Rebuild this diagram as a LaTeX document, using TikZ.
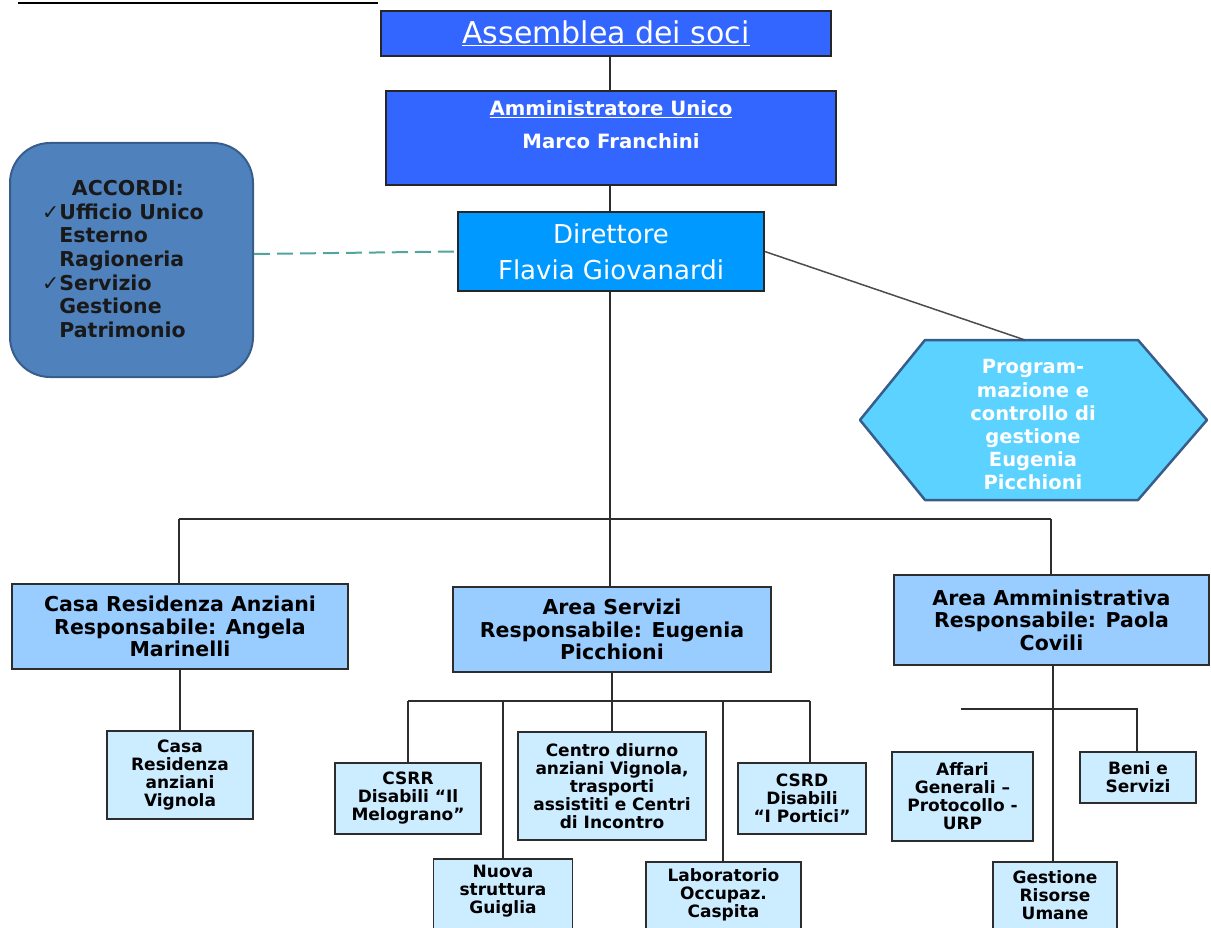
\documentclass[tikz,border=0pt]{standalone}
\usepackage{fontspec}
\setmainfont{DejaVu Sans}
\usetikzlibrary{calc}
\definecolor{bluebox}{RGB}{51,102,255}
\definecolor{dirblue}{RGB}{0,153,255}
\definecolor{accfill}{RGB}{79,129,189}
\definecolor{accline}{RGB}{56,93,138}
\definecolor{hexfill}{RGB}{91,210,255}
\definecolor{areafill}{RGB}{153,204,255}
\definecolor{subfill}{RGB}{204,236,255}
\definecolor{dashcol}{RGB}{80,165,160}
\definecolor{linecol}{RGB}{45,45,45}
\tikzset{
  bluenode/.style={draw=black!85, line width=1.5pt, fill=bluebox, text=white, inner sep=0pt},
  areabox/.style={draw=linecol, line width=1.5pt, fill=areafill, align=center, inner sep=0pt,
    font=\bfseries\fontsize{20.5}{22.5}\selectfont},
  subbox/.style={draw=linecol, line width=1.5pt, fill=subfill, align=center, inner sep=0pt,
    font=\bfseries\fontsize{17}{18}\selectfont},
  subtext/.style={align=center, inner sep=0pt, font=\bfseries\fontsize{17}{18}\selectfont},
  conn/.style={draw=linecol, line width=2pt},
}
\begin{document}
\begin{tikzpicture}[x=1pt,y=-1pt]
\path[use as bounding box] (0,0) rectangle (1211,928);
\clip (0,0) rectangle (1211,928);

% cropped heading underline
\coordinate (h1) at (18,3);
\coordinate (h2) at (378,3);
\draw[line width=2pt] (h1) -- (h2);

% top chain
\node[bluenode, minimum width=450pt, minimum height=45pt, font=\fontsize{30}{32}\selectfont] (ass) at (606,33.5) {\underline{Assemblea dei soci}};
\node[bluenode, minimum width=450pt, minimum height=94pt] (amm) at (611,138) {};
\node[text=white, align=center, font=\bfseries\fontsize{19.7}{33}\selectfont] (ammt) at (611,125) {\underline{Amministratore Unico}\\Marco Franchini};
\node[draw=black!85, line width=1.5pt, fill=dirblue, text=white, minimum width=306pt, minimum height=79pt, align=center, inner sep=0pt, font=\fontsize{26}{36}\selectfont] (dir) at (611,251.5) {Direttore\\Flavia Giovanardi};

% accordi
\node[draw=accline, line width=2pt, fill=accfill, rounded corners=40pt, minimum width=243pt, minimum height=234pt] (acc) at (131.5,260) {};
\node[align=left, inner sep=0pt, text=black!90, font=\bfseries\fontsize{20.5}{23.7}\selectfont] (acct) at (123,259)
  {\hspace*{1.45em}ACCORDI:\\{\mdseries ✓}Ufficio Unico\\\phantom{{\mdseries ✓}}Esterno\\\phantom{{\mdseries ✓}}Ragioneria\\{\mdseries ✓}Servizio\\\phantom{{\mdseries ✓}}Gestione\\\phantom{{\mdseries ✓}}Patrimonio};

% hexagon
\draw[draw=accline, line width=2.5pt, fill=hexfill, line join=round] (925,340) -- (1138,340) -- (1207,420) -- (1138,500) -- (925,500) -- (860,420) -- cycle;
\node[text=white, align=center, inner sep=0pt, font=\bfseries\fontsize{19.5}{23.2}\selectfont] (hex) at (1033,425) {Program-\\mazione e\\controllo di\\gestione\\Eugenia\\Picchioni};
\coordinate (hextop) at (1025,340);

% areas
\node[areabox, minimum width=336pt, minimum height=85pt] (cra) at (180,626.5) {Casa Residenza Anziani\\Responsabile:  Angela\\Marinelli};
\node[areabox, minimum width=318pt, minimum height=85pt] (ase) at (612,629.5) {Area Servizi\\Responsabile:  Eugenia\\Picchioni};
\node[areabox, minimum width=315pt, minimum height=90pt] (aam) at (1051.5,620) {Area Amministrativa\\Responsabile:  Paola\\Covili};

% sub boxes
\node[subbox, minimum width=146pt, minimum height=88pt] (crv) at (180,775) {Casa\\Residenza\\anziani\\Vignola};
\node[subbox, minimum width=146pt, minimum height=71pt] (csrr) at (408,798.5) {CSRR\\Disabili “Il\\Melograno”};
\node[subbox, minimum width=188pt, minimum height=108pt] (centro) at (612,786) {Centro diurno\\anziani Vignola,\\trasporti\\assistiti e Centri\\di Incontro};
\node[subbox, minimum width=128pt, minimum height=71pt] (csrd) at (802,798.5) {CSRD\\Disabili\\“I Portici”};
\node[subbox, minimum width=139pt, minimum height=90pt, anchor=north] (nuova) at (503,858) {};
\node[subtext] (nuovat) at (503,891) {Nuova\\struttura\\Guiglia};
\node[subbox, minimum width=155pt, minimum height=90pt, anchor=north] (lab) at (723.5,861) {};
\node[subtext] (labt) at (723.5,895) {Laboratorio\\Occupaz.\\Caspita};
\node[subbox, minimum width=141pt, minimum height=89pt] (aff) at (962.5,796.5) {Affari\\Generali –\\Protocollo -\\URP};
\node[subbox, minimum width=116pt, minimum height=51pt] (beni) at (1138,777.5) {Beni e\\Servizi};
\node[subbox, minimum width=124pt, minimum height=90pt, anchor=north] (gru) at (1055,861) {};
\node[subtext] (grut) at (1055,895) {Gestione\\Risorse\\Umane};

% connectors
\coordinate (c1) at (610,0);
\draw[conn] (c1 |- ass.south) -- (c1 |- amm.north);
\draw[conn] (c1 |- amm.south) -- (c1 |- dir.north);
\draw[draw=dashcol, line width=2pt, dash pattern=on 16pt off 7pt] ($(acc.east)+(0,-6)$) -- (dir.west);
\draw[draw=black!70, line width=1.5pt] (dir.east) -- (hextop);

\coordinate (bL) at (179,519);
\coordinate (bM) at (610,519);
\coordinate (bR) at (1051,519);
\draw[conn] (c1 |- dir.south) -- (bM);
\draw[conn] (bL) -- (bR);
\draw[conn] (bL) -- (bL |- cra.north);
\draw[conn] (bM) -- (bM |- ase.north);
\draw[conn] (bR) -- (bR |- aam.north);

\draw[conn] (cra.south) -- (crv.north);

\coordinate (sL) at (408,701);
\coordinate (sN) at (503,701);
\coordinate (sB) at (723,701);
\coordinate (sR) at (810,701);
\draw[conn] (ase.south) -- (centro.north);
\draw[conn] (sL) -- (sR);
\draw[conn] (sL) -- (sL |- csrr.north);
\draw[conn] (sN) -- (sN |- nuova.north);
\draw[conn] (sB) -- (sB |- lab.north);
\draw[conn] (sR) -- (sR |- csrd.north);

\coordinate (aV) at (1053,709);
\coordinate (aL) at (961,709);
\coordinate (aR) at (1137,709);
\draw[conn] (aV |- aam.south) -- (aV |- gru.north);
\draw[conn] (aL) -- (aR) -- (aR |- beni.north);
\end{tikzpicture}
\end{document}
